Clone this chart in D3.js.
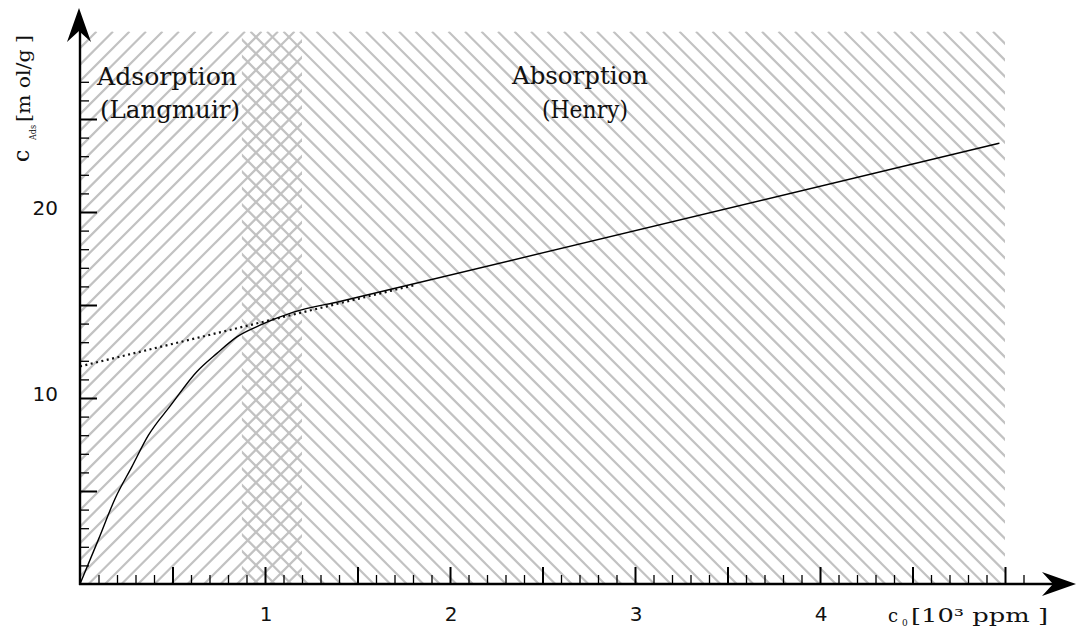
<!DOCTYPE html>
<html>
<head>
<meta charset="utf-8">
<script src="https://cdn.jsdelivr.net/npm/d3@7"></script>
<style>
  html, body { margin: 0; padding: 0; background: #fff; }
  svg { display: block; }
  .serif { font-family: "DejaVu Serif", "Liberation Serif", serif; fill: #111; }
  .num { font-family: "DejaVu Sans", sans-serif; fill: #111; }
</style>
</head>
<body>
<svg id="chart"></svg>
<script>
// measured curve (Langmuir + Henry), c0 in 10^3 ppm, cAds in mmol/g
const curveX = [0, 0.1, 0.19, 0.28, 0.37, 0.49, 0.63, 0.74, 0.85, 0.97, 1.15, 1.41, 4.97];
const curveY = [0, 2.4, 4.6, 6.3, 8.0, 9.6, 11.4, 12.4, 13.3, 13.9, 14.6, 15.2, 23.7];

// Henry extrapolation (dotted)
const henryX = [0, 1.82];
const henryY = [11.7, 16.1];

// shaded regions
const langmuirRange = [0, 1.2];
const henryRange = [0.875, 5.0];
const regionTop = 29.7;

const xTickLabels = ["1", "2", "3", "4"];
const xTickLabelValues = [1, 2, 3, 4];
const yTickLabels = ["10", "20"];
const yTickLabelValues = [10, 20];

const width = 1077, height = 632;
const svg = d3.select("#chart").attr("width", width).attr("height", height);

const x = d3.scaleLinear().domain([0, 5]).range([80, 1005]);
const y = d3.scaleLinear().domain([0, 30]).range([584, 26]);

const defs = svg.append("defs");

// hatch a region with diagonal lines; dir = 1 for "/", -1 for "\"
function hatchRegion(id, range, dir) {
  const x0 = x(range[0]), x1 = x(range[1]);
  const top = y(regionTop), bottom = y(0);
  const h = bottom - top;
  const step = 16.5;
  defs.append("clipPath").attr("id", id)
    .append("rect")
    .attr("x", x0).attr("y", top)
    .attr("width", x1 - x0).attr("height", h);
  const starts = d3.range(x0 - h - step, x1 + h + step, step);
  svg.append("g")
    .attr("clip-path", `url(#${id})`)
    .selectAll("line")
    .data(starts)
    .enter().append("line")
    .attr("x1", d => d)
    .attr("y1", dir > 0 ? bottom : top)
    .attr("x2", d => d + h)
    .attr("y2", dir > 0 ? top : bottom)
    .attr("stroke", "#c2c2c2")
    .attr("stroke-width", 2.2);
}
hatchRegion("clipL", langmuirRange, 1);
hatchRegion("clipH", henryRange, -1);

// region labels
function label(txt, cx, baseY, len, size) {
  svg.append("text")
    .attr("class", "serif")
    .attr("x", cx - len / 2)
    .attr("y", baseY)
    .attr("font-size", size)
    .attr("textLength", len)
    .attr("lengthAdjust", "spacingAndGlyphs")
    .text(txt);
}
label("Adsorption", 167, 85, 140, 24);
label("(Langmuir)", 170, 118, 140, 24);
label("Absorption", 580, 84, 136, 24);
label("(Henry)", 585, 118, 86, 24);

// curves
const line = d3.line().x(d => x(d[0])).y(d => y(d[1]));

svg.append("path")
  .datum(d3.zip(henryX, henryY))
  .attr("fill", "none")
  .attr("stroke", "#111")
  .attr("stroke-width", 2.2)
  .attr("stroke-dasharray", "2,3.5")
  .attr("d", line);

svg.append("path")
  .datum(d3.zip(curveX, curveY))
  .attr("fill", "none")
  .attr("stroke", "#000")
  .attr("stroke-width", 1.4)
  .attr("d", line.curve(d3.curveMonotoneX));

// ticks
const xMinor = d3.range(1, 52).map(i => i / 10).filter(v => Math.round(v * 10) % 5 !== 0);
const xMajor = d3.range(1, 11).map(i => i / 2);
const yMinor = d3.range(1, 28).filter(v => v % 5 !== 0);
const yMajor = [5, 10, 15, 20, 25];

const xMinorAxis = svg.append("g").attr("transform", `translate(0,${y(0)})`)
  .call(d3.axisTop(x).tickValues(xMinor).tickSize(9).tickFormat(""));
const xMajorAxis = svg.append("g").attr("transform", `translate(0,${y(0)})`)
  .call(d3.axisTop(x).tickValues(xMajor).tickSize(17).tickFormat(""));
const yMinorAxis = svg.append("g").attr("transform", `translate(${x(0)},0)`)
  .call(d3.axisRight(y).tickValues(yMinor).tickSize(9).tickFormat(""));
const yMajorAxis = svg.append("g").attr("transform", `translate(${x(0)},0)`)
  .call(d3.axisRight(y).tickValues(yMajor).tickSize(17).tickFormat(""));

[xMinorAxis, xMajorAxis, yMinorAxis, yMajorAxis].forEach(g => g.select(".domain").remove());
[xMinorAxis, yMinorAxis].forEach(g => g.selectAll(".tick line").attr("stroke", "#000").attr("stroke-width", 1.3));
[xMajorAxis, yMajorAxis].forEach(g => g.selectAll(".tick line").attr("stroke", "#000").attr("stroke-width", 2));

// axis lines with arrows
svg.append("line")
  .attr("x1", x(0) - 1).attr("y1", y(0))
  .attr("x2", 1055).attr("y2", y(0))
  .attr("stroke", "#000").attr("stroke-width", 2.4);
svg.append("line")
  .attr("x1", x(0)).attr("y1", y(0) + 1)
  .attr("x2", x(0)).attr("y2", 30)
  .attr("stroke", "#000").attr("stroke-width", 2.4);

const ax = x(0), ay = y(0);
svg.append("path")
  .attr("d", `M${ax - 1},8 L${ax + 11},42 L${ax - 1},31 L${ax - 13},42 Z`)
  .attr("fill", "#000");
svg.append("path")
  .attr("d", `M1076,${ay} L1042,${ay - 12} L1053,${ay} L1042,${ay + 12} Z`)
  .attr("fill", "#000");

// tick labels
svg.selectAll(".xl").data(xTickLabelValues).enter().append("text")
  .attr("class", "num")
  .attr("x", d => x(d) + 1)
  .attr("y", 621)
  .attr("text-anchor", "middle")
  .attr("font-size", 20)
  .text((d, i) => xTickLabels[i]);

svg.selectAll(".yl").data(yTickLabelValues).enter().append("text")
  .attr("class", "num")
  .attr("x", 58)
  .attr("y", d => y(d) + 3)
  .attr("text-anchor", "end")
  .attr("font-size", 20)
  .text((d, i) => yTickLabels[i]);

// axis titles
const yt = svg.append("g").attr("transform", "translate(29,162) rotate(-90)");
yt.append("text").attr("class", "serif").attr("x", 0).attr("y", 0)
  .attr("font-size", 22).text("c");
yt.append("text").attr("class", "serif").attr("x", 22).attr("y", 7)
  .attr("font-size", 10).attr("textLength", 15).attr("lengthAdjust", "spacingAndGlyphs").text("Ads");
yt.append("text").attr("class", "serif").attr("x", 40).attr("y", 1)
  .attr("font-size", 19).attr("textLength", 87).attr("lengthAdjust", "spacingAndGlyphs").text("[m ol/g ]");

svg.append("text").attr("class", "serif").attr("x", 888).attr("y", 622)
  .attr("font-size", 18).text("c");
svg.append("text").attr("class", "serif").attr("x", 902).attr("y", 626)
  .attr("font-size", 9).text("0");
svg.append("text").attr("class", "serif").attr("x", 911).attr("y", 622)
  .attr("font-size", 18).attr("textLength", 137).attr("lengthAdjust", "spacingAndGlyphs").text("[10³ ppm ]");
</script>
</body>
</html>
